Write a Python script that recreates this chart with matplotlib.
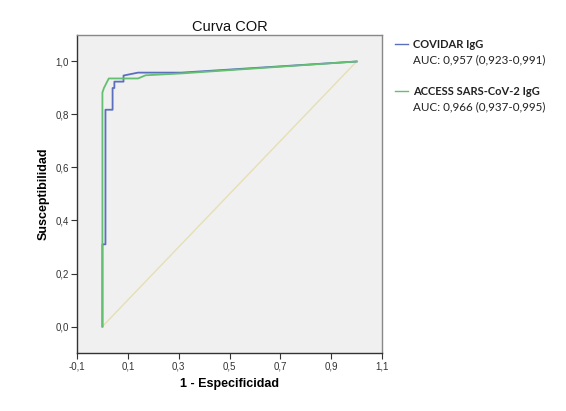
import matplotlib
matplotlib.use("Agg")
import matplotlib.pyplot as plt

# Data
covidar_fpr = [0, 0, 0.012, 0.012, 0.040, 0.040, 0.047, 0.047, 0.083, 0.083, 0.14, 0.31, 1.0]
covidar_tpr = [0, 0.31, 0.31, 0.818, 0.818, 0.90, 0.90, 0.924, 0.924, 0.947, 0.958, 0.958, 1.0]
access_fpr = [0, 0, 0.006, 0.025, 0.14, 0.17, 0.31, 1.0]
access_tpr = [0, 0.883, 0.90, 0.936, 0.936, 0.948, 0.955, 1.0]
ref_line = [0, 1]
xticks = [-0.1, 0.1, 0.3, 0.5, 0.7, 0.9, 1.1]
yticks = [0.0, 0.2, 0.4, 0.6, 0.8, 1.0]
series_names = ["COVIDAR IgG", "ACCESS SARS-CoV-2 IgG"]
auc_texts = ["AUC: 0,957 (0,923-0,991)", "AUC: 0,966 (0,937-0,995)"]

plt.rcParams['font.family'] = ['Liberation Sans', 'DejaVu Sans']

fig = plt.figure(figsize=(5.66, 4.11), dpi=100)
ax = fig.add_axes([77/566, 1-353/411, (382-77)/566, (353-35)/411])
ax.set_facecolor('#f0f0f0')

blue = '#5b6fbf'
green = '#62c070'
ax.plot(ref_line, ref_line, color='#e6dfb4', lw=1.0, zorder=1)
ax.plot(covidar_fpr, covidar_tpr, color=blue, lw=1.3, zorder=2)
ax.plot(access_fpr, access_tpr, color=green, lw=1.3, zorder=3)

ax.set_xlim(-0.1, 1.1)
ax.set_ylim(-0.1, 1.1)
ax.set_xticks(xticks)
ax.set_yticks(yticks)
ax.set_xticklabels([f"{v:.1f}".replace('.', ',') for v in xticks], fontsize=7, color='#333333')
ax.set_yticklabels([f"{v:.1f}".replace('.', ',') for v in yticks], fontsize=7, color='#333333')
ax.tick_params(direction='out', length=4, width=0.8, color='#333333', pad=2)

for s in ['left', 'bottom']:
    ax.spines[s].set_color('#333333')
    ax.spines[s].set_linewidth(1.0)
for s in ['top', 'right']:
    ax.spines[s].set_color('#888888')
    ax.spines[s].set_linewidth(1.0)

ax.set_title("Curva COR", fontsize=10.5, pad=3, color='#111111')
ax.set_xlabel("1 - Especificidad", fontsize=9, fontweight='bold', labelpad=5)
ax.set_ylabel("Susceptibilidad", fontsize=9, fontweight='bold', labelpad=4)

# Legend
leg_font = ['Lato', 'DejaVu Sans']
colors = [blue, green]
ys = [44, 91]
for name, auc, c, y in zip(series_names, auc_texts, colors, ys):
    fig.add_artist(plt.Line2D([395/566, 408/566], [1-y/411, 1-y/411], color=c, lw=1.0))
    fig.text(413/566, 1-y/411, name, fontsize=8, fontweight='bold', family=leg_font,
             va='center', ha='left', color='#222222')
    fig.text(413/566, 1-(y+16)/411, auc, fontsize=8.4, family=leg_font,
             va='center', ha='left', color='#222222')

fig.savefig("out.png", dpi=100, facecolor='white')
